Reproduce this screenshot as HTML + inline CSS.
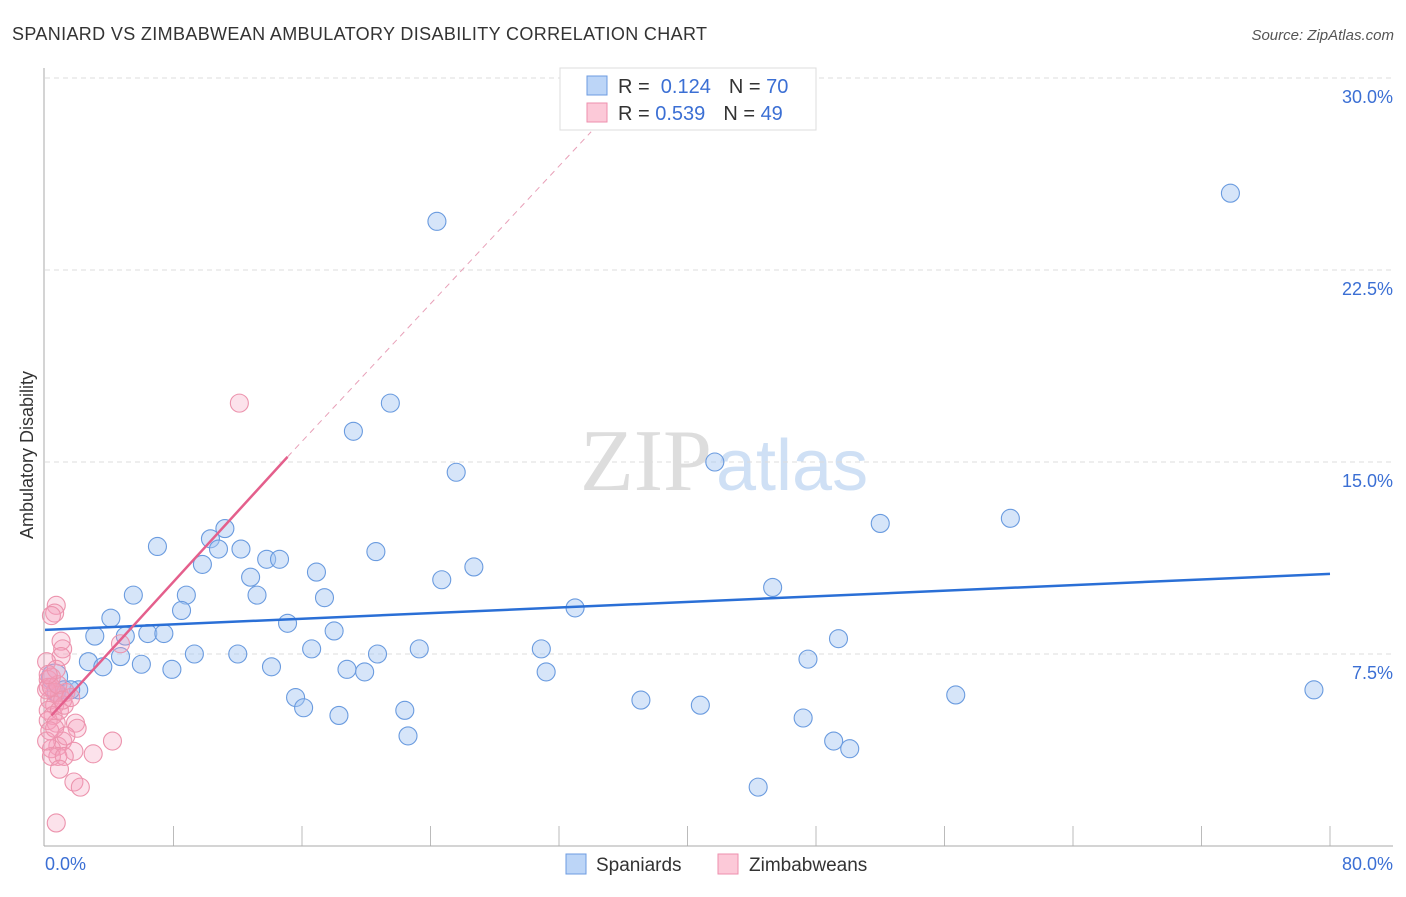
<!DOCTYPE html>
<html><head><meta charset="utf-8"><style>
body{margin:0;background:#fff;font-family:"Liberation Sans",sans-serif}
</style></head><body>
<svg width="1406" height="892" xmlns="http://www.w3.org/2000/svg" font-family="Liberation Sans, sans-serif">
<text x="12" y="40" font-size="18" fill="#333" textLength="695">SPANIARD VS ZIMBABWEAN AMBULATORY DISABILITY CORRELATION CHART</text>
<text x="1394" y="40" font-size="15" fill="#555" font-style="italic" text-anchor="end">Source: ZipAtlas.com</text>
<text x="712" y="490" font-size="88" fill="#ddd" text-anchor="end" font-family="Liberation Serif, serif">ZIP</text>
<text x="716" y="490" font-size="72" fill="#cfe0f5">atlas</text>
<g id="grid"></g>
<line x1="44" y1="68" x2="44" y2="846" stroke="#aaa"/>
<line x1="44" y1="846" x2="1393" y2="846" stroke="#aaa"/>
<text x="33" y="455" font-size="18" fill="#333" text-anchor="middle" transform="rotate(-90 33 455)">Ambulatory Disability</text>
<text x="45" y="870" font-size="18" fill="#3b6fd4">0.0%</text>
<text x="1393" y="870" font-size="18" fill="#3b6fd4" text-anchor="end">80.0%</text>
<g id="pts"></g>
<g id="lines"></g>
<g>
<rect x="560" y="68" width="256" height="62" fill="#fff" stroke="#ddd"/>
<rect x="587" y="76" width="20" height="19" fill="#bcd5f7" stroke="#6d9be0"/>
<rect x="587" y="103" width="20" height="19" fill="#fcc9d8" stroke="#ee8fae"/>
<text x="618" y="93" font-size="20" fill="#333">R = <tspan fill="#3b6fd4">&#160;0.124</tspan><tspan dx="18">N = </tspan><tspan fill="#3b6fd4">70</tspan></text>
<text x="618" y="120" font-size="20" fill="#333">R = <tspan fill="#3b6fd4">0.539</tspan><tspan dx="18">N = </tspan><tspan fill="#3b6fd4">49</tspan></text>
</g>
<g>
<rect x="566" y="854" width="20" height="20" fill="#bcd5f7" stroke="#6d9be0"/>
<text x="596" y="871" font-size="19" fill="#333">Spaniards</text>
<rect x="718" y="854" width="20" height="20" fill="#fcc9d8" stroke="#ee8fae"/>
<text x="749" y="871" font-size="19" fill="#333">Zimbabweans</text>
</g>
</svg>
<script>
const yTicks=[7.5,15,22.5,30];
const yTickLabels=["7.5%","15.0%","22.5%","30.0%"];
const xTicks=[8,16,24,32,40,48,56,64,72,80];
const blueX=[24.4,73.8,21.5,19.2,25.6,41.7,52.0,60.1,11.2,10.3,7.0,12.2,10.8,20.6,13.8,14.6,9.8,26.7,16.9,12.8,24.7,45.3,5.5,8.8,13.2,17.4,8.5,33.0,4.1,15.1,18.0,3.1,5.0,6.4,7.4,49.4,30.9,23.3,16.6,12.0,9.3,20.7,4.7,47.5,2.7,6.0,3.6,7.9,14.1,18.8,19.9,31.2,0.6,1.2,2.1,1.6,0.7,79.0,15.6,56.7,37.1,16.1,40.8,22.4,18.3,47.2,22.6,49.1,50.1,44.4];
const blueY=[24.4,25.5,17.3,16.2,14.6,15.0,12.6,12.8,12.4,12.0,11.7,11.6,11.6,11.5,11.2,11.2,11.0,10.9,10.7,10.5,10.4,10.1,9.8,9.8,9.8,9.7,9.2,9.3,8.9,8.7,8.4,8.2,8.2,8.3,8.3,8.1,7.7,7.7,7.7,7.5,7.5,7.5,7.4,7.3,7.2,7.1,7.0,6.9,7.0,6.9,6.8,6.8,6.6,6.1,6.1,6.1,6.0,6.1,5.8,5.9,5.7,5.4,5.5,5.3,5.1,5.0,4.3,4.1,3.8,2.3];
const pinkX=[12.1,0.7,0.6,0.4,1.0,1.1,1.0,4.7,0.2,0.4,0.2,0.6,0.9,1.3,0.3,0.6,0.2,0.5,0.9,0.2,0.7,1.2,1.9,2.0,1.1,0.8,0.4,1.8,0.8,0.4,1.2,3.0,4.2,1.8,2.2,0.7,0.1,0.4,0.8,1.1,0.3,1.3,0.9,0.1,0.6,1.6,0.1,0.7,0.2];
const pinkY=[17.3,9.4,9.1,9.0,8.0,7.7,7.4,7.9,6.5,6.6,6.2,6.0,5.9,6.0,5.7,5.5,5.3,5.1,5.3,4.9,4.8,5.5,4.8,4.6,4.1,3.9,3.8,3.7,3.5,3.5,3.5,3.6,4.1,2.5,2.3,0.9,6.1,6.2,6.3,5.7,4.5,4.3,3.0,4.1,4.6,5.8,7.2,6.9,6.7];
const blueTrend=[8.44,10.63];
const pinkTrend=[5.1,15.2,27.9];
const pinkTrendX=[0.4,15.1,34.0];
const X=v=>45+v/80*1285, Y=v=>846-v*25.6;
const NS="http://www.w3.org/2000/svg";
function mk(t,a,p){const e=document.createElementNS(NS,t);for(const k in a)e.setAttribute(k,a[k]);p.appendChild(e);return e;}
const g=document.getElementById('grid');
yTicks.forEach((v,i)=>{
 const l=mk('line',{x1:45,x2:1393,y1:Y(v),y2:Y(v),stroke:'#ddd','stroke-dasharray':'5,4'},g);
 
 
 const t=mk('text',{x:1393,y:Y(v)+25,'font-size':18,fill:'#3b6fd4','text-anchor':'end'},g);
 t.textContent=yTickLabels[i];
 
 
});
xTicks.forEach(v=>{
 const l=mk('line',{x1:X(v),x2:X(v),y1:826,y2:846,stroke:'#bbb'},g);
 
 
});
const p=document.getElementById('pts');
blueX.forEach((v,i)=>{
 const c=mk('circle',{cx:X(v),cy:Y(blueY[i]),r:i==52?13:9,fill:'rgba(165,198,242,0.45)',stroke:'#6a9bdf','stroke-width':1.1},p);
 
 
});
pinkX.forEach((v,i)=>{
 const c=mk('circle',{cx:X(v),cy:Y(pinkY[i]),r:9,fill:'rgba(244,160,188,0.3)',stroke:'#ec93ad','stroke-width':1.1},p);
 
 
});
const L=document.getElementById('lines');
const b=mk('line',{x1:X(0),y1:Y(blueTrend[0]),x2:X(80),y2:Y(blueTrend[1]),stroke:'#2a6fd6','stroke-width':2.5},L);


const pk=mk('line',{x1:X(pinkTrendX[0]),y1:Y(pinkTrend[0]),x2:X(pinkTrendX[1]),y2:Y(pinkTrend[1]),stroke:'#e45f8c','stroke-width':2.5},L);


const pd=mk('line',{x1:X(pinkTrendX[1]),y1:Y(pinkTrend[1]),x2:X(pinkTrendX[2]),y2:Y(pinkTrend[2]),stroke:'#e8a0b8','stroke-width':1,'stroke-dasharray':'6,5'},L);


</script>
</body></html>
